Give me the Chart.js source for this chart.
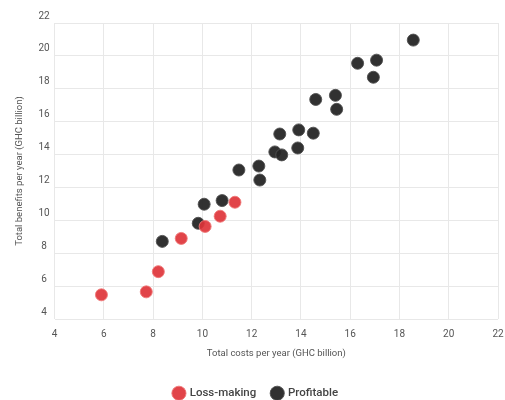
<!DOCTYPE html>
<html>
<head>
<meta charset="utf-8">
<script src="https://cdn.jsdelivr.net/npm/chart.js@4/dist/chart.umd.min.js"></script>
<style>
  html, body { margin: 0; padding: 0; background: #fff; }
  #wrap { width: 505px; height: 400px; }
</style>
</head>
<body>
<div id="wrap"><canvas id="costChart"></canvas></div>
<script>
// data (GHC billion per year)
const lossCosts    = [5.9, 7.72, 8.21, 9.14, 10.11, 10.72, 11.32];
const lossBenefits = [5.47, 5.65, 6.88, 8.9, 9.63, 10.25, 11.1];

const profitCosts    = [8.37, 9.83, 10.07, 10.8, 11.48, 12.29, 12.33, 12.94, 13.22, 13.14,
                        13.87, 13.91, 14.5, 14.6, 15.4, 15.45, 16.3, 17.07, 16.94, 18.56];
const profitBenefits = [8.72, 9.82, 10.98, 11.2, 13.06, 13.3, 12.45, 14.16, 13.98, 15.25,
                        14.4, 15.5, 15.3, 17.35, 17.6, 16.75, 19.55, 19.74, 18.7, 20.96];

const seriesNames = ['Loss-making', 'Profitable'];
const tickValues = [4, 6, 8, 10, 12, 14, 16, 18, 20, 22];

const toPoints = (xs, ys) => xs.map((x, i) => ({x: x, y: ys[i]}));

const textColor = '#555';
const gridColor = '#e8e8e8';

let ctx = document.getElementById('costChart');

let chart = new Chart(ctx, {
    type: 'scatter',
    data: {
        datasets: [{
            label: seriesNames[0],
            data: toPoints(lossCosts, lossBenefits),
            backgroundColor: 'rgba(222,52,58,0.92)',
            borderColor: 'rgba(240,120,120,0.9)',
            borderWidth: 1,
            pointRadius: 6,
            pointHoverRadius: 6
        }, {
            label: seriesNames[1],
            data: toPoints(profitCosts, profitBenefits),
            backgroundColor: 'rgba(38,38,38,0.95)',
            borderColor: 'rgba(80,80,80,0.9)',
            borderWidth: 1,
            pointRadius: 6,
            pointHoverRadius: 6
        }]
    },
    options: {
        responsive: true,
        maintainAspectRatio: false,
        animation: false,
        layout: {
            padding: {top: 23, right: 7, left: 14, bottom: -9}
        },
        scales: {
            x: {
                type: 'linear',
                min: 4,
                max: 22,
                afterBuildTicks: axis => { axis.ticks = tickValues.map(v => ({value: v})); },
                afterFit: axis => { axis.paddingRight = 0; },
                grid: {color: gridColor, drawTicks: false},
                border: {display: false},
                ticks: {
                    color: textColor,
                    padding: 10,
                    font: {family: 'Roboto', size: 10, lineHeight: 1}
                },
                title: {
                    display: true,
                    text: 'Total costs per year (GHC billion)',
                    color: textColor,
                    padding: {top: 0, bottom: 13},
                    font: {family: 'Roboto', size: 9.5, lineHeight: 1}
                }
            },
            y: {
                type: 'linear',
                min: 4,
                max: 22,
                afterBuildTicks: axis => { axis.ticks = tickValues.map(v => ({value: v})); },
                grid: {color: gridColor, drawTicks: false},
                border: {display: false},
                ticks: {
                    color: textColor,
                    padding: 5,
                    labelOffset: -7,
                    crossAlign: 'center',
                    font: {family: 'Roboto', size: 10}
                },
                title: {
                    display: true,
                    text: 'Total benefits per year (GHC billion)',
                    color: textColor,
                    padding: {top: 0, bottom: 8},
                    font: {family: 'Roboto', size: 9.5}
                }
            }
        },
        plugins: {
            legend: {
                position: 'bottom',
                labels: {
                    usePointStyle: true,
                    pointStyle: 'circle',
                    boxWidth: 10,
                    boxHeight: 10,
                    padding: 16,
                    color: '#444',
                    font: {family: 'Roboto', size: 11.5, weight: 500}
                }
            },
            tooltip: {enabled: false}
        }
    }
});
</script>
</body>
</html>
